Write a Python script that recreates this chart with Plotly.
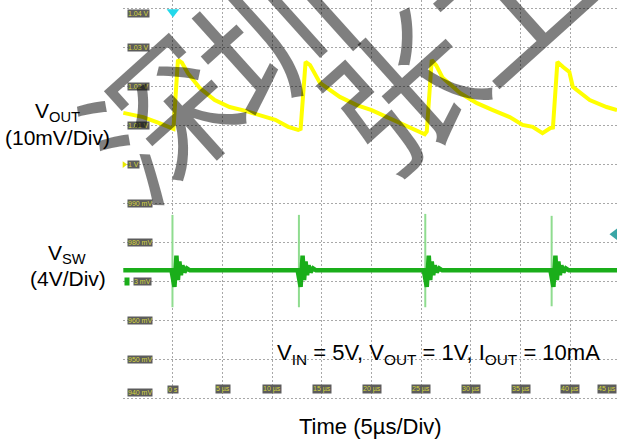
import plotly.graph_objects as go

# channel 1: V_OUT (volts) against time (µs)
vout_t = [-5.0, -3.0, -1.5, -0.3, 0.05, 0.5, 0.9, 1.5, 2.7, 4.2, 5.7, 7.3, 8.75, 10.3,
          11.6, 12.6, 12.85, 13.35, 13.8, 14.8, 16.8, 18.5, 20.0, 21.8, 23.8, 25.35,
          25.55, 26.05, 26.5, 27.15, 28.9, 30.6, 32.2, 33.9, 35.2, 36.2, 37.2, 38.0,
          38.25, 38.7, 39.3, 39.9, 40.25, 41.95, 43.65, 44.7]
vout_v = [1.0133, 1.0122, 1.0108, 1.0094, 1.0092, 1.0269, 1.0262, 1.0235, 1.0197, 1.0166,
          1.0148, 1.0138, 1.0128, 1.0115, 1.0097, 1.0089, 1.0092, 1.0264, 1.0256, 1.0210,
          1.0174, 1.0153, 1.0140, 1.0120, 1.0097, 1.0078, 1.0085, 1.0269, 1.0255, 1.0223,
          1.0184, 1.0158, 1.0140, 1.0122, 1.0102, 1.0097, 1.0081, 1.0094, 1.0095, 1.0264,
          1.0250, 1.0238, 1.0200, 1.0166, 1.0148, 1.0140]

# channel 2: V_SW (volts), baseline + ringing after each switching event
vsw_t = [-5.0, -0.15, 0.15, 0.35, 0.5, 0.65, 0.8, 0.95, 1.15, 1.4, 1.7,
         12.55, 12.85, 13.05, 13.2, 13.35, 13.5, 13.65, 13.85, 14.1, 14.4,
         25.25, 25.55, 25.75, 25.9, 26.05, 26.2, 26.35, 26.55, 26.8, 27.1,
         38.0, 38.3, 38.5, 38.65, 38.8, 38.95, 39.1, 39.3, 39.55, 39.85, 44.7]
vsw_v = [1.1, 1.1, -0.6, 2.6, 0.1, 2.0, 0.6, 1.6, 0.9, 1.3, 1.1,
         1.1, -0.6, 2.6, 0.1, 2.0, 0.6, 1.6, 0.9, 1.3, 1.1,
         1.1, -0.6, 2.6, 0.1, 2.0, 0.6, 1.6, 0.9, 1.3, 1.1,
         1.1, -0.6, 2.6, 0.1, 2.0, 0.6, 1.6, 0.9, 1.3, 1.1, 1.1]

# fast switching edges (drawn pale)
spike_t = [-0.05, 12.68, 25.4, 38.12]
spike_hi = [6.8, 6.8, 6.9, 6.7]
spike_lo = [-2.7, -2.7, -2.7, -2.6]

ch1_levels = [1.04, 1.03, 1.02, 1.01, 1.00, 0.99, 0.98, 0.96, 0.95, 0.94]
ch1_labels = ["1.04 V", "1.03 V", "1.02 V", "1.01 V", "1 V", "990 mV", "980 mV",
              "960 mV", "950 mV", "940 mV"]
time_ticks = [0, 5, 10, 15, 20, 25, 30, 35, 40, 45]
time_labels = ["0 s", "5 µs", "10 µs", "15 µs", "20 µs", "25 µs", "30 µs", "35 µs",
               "40 µs", "45 µs"]

trig_level = 4.8  # V, channel 2

X0, X1 = -5.03, 44.7
Y0, Y1 = 0.93949, 1.04231
Y2_0, Y2_1 = -12.24, 28.9

font = "Arial, Liberation Sans, sans-serif"
lab_bg = "#5c5c5c"
lab_fg = "#d6d63c"

fig = go.Figure()

spx, spy = [], []
for t, hi, lo in zip(spike_t, spike_hi, spike_lo):
    spx += [t, t, None]
    spy += [hi, lo, None]
fig.add_trace(go.Scatter(x=spx, y=spy, mode='lines', yaxis='y2',
                         line=dict(color='#8fdc8f', width=2), hoverinfo='skip'))
fig.add_trace(go.Scatter(x=vsw_t, y=vsw_v, mode='lines', yaxis='y2',
                         line=dict(color='#1aae1a', width=4.5), hoverinfo='skip'))
fig.add_trace(go.Scatter(x=vout_t, y=vout_v, mode='lines',
                         line=dict(color='#ffff00', width=4), hoverinfo='skip'))

# scope markers: trigger position, trigger level, channel offsets
fig.add_trace(go.Scatter(x=[0], y=[Y1 - 0.0031], mode='markers', cliponaxis=False,
                         marker=dict(symbol='triangle-down', size=11, color='#22d8ea')))
fig.add_trace(go.Scatter(x=[44.45], y=[trig_level], yaxis='y2', mode='markers', cliponaxis=False,
                         marker=dict(symbol='triangle-left', size=10, color='#3aa6a6')))
fig.add_trace(go.Scatter(x=[X0 + 0.12], y=[1.0], mode='markers', cliponaxis=False,
                         marker=dict(symbol='triangle-right', size=6, color='#e8e800')))

ann = []
for lv, lb in zip(ch1_levels, ch1_labels):
    ys = 0
    if lv >= 1.04:
        ys = -5
    if lv <= 0.94:
        ys = 6
    ann.append(dict(x=X0, y=lv, xref='x', yref='y', text=lb, showarrow=False,
                    xanchor='left', yanchor='middle', xshift=4, yshift=ys,
                    font=dict(size=7, color=lab_fg, family=font), bgcolor=lab_bg, borderpad=0))
# channel 2 ground marker on the 970 mV line
ann.append(dict(x=X0, y=0.97, xref='x', yref='y', text="2", showarrow=False,
                xanchor='left', yanchor='middle', xshift=1,
                font=dict(size=7, color='#1aae1a', family=font), bgcolor='#1aae1a', borderpad=0))
ann.append(dict(x=X0, y=0.97, xref='x', yref='y', text="3 mV", showarrow=False,
                xanchor='left', yanchor='middle', xshift=10,
                font=dict(size=7, color=lab_fg, family=font), bgcolor=lab_bg, borderpad=0))
for tt, lb in zip(time_ticks, time_labels):
    xa = 'center'
    if tt > X1:
        tt, xa = X1 - 0.05, 'right'
    ann.append(dict(x=tt, y=0.0275, xref='x', yref='paper', text=lb,
                    showarrow=False, xanchor=xa, yanchor='middle',
                    font=dict(size=7, color=lab_fg, family=font), bgcolor=lab_bg, borderpad=0))

# side / bottom captions
for txt, px, py, fs in [("V<sub>OUT</sub>", -0.1336, 0.72, 21), ("(10mV/Div)", -0.1316, 0.6575, 21),
                        ("V<sub>SW</sub>", -0.1134, 0.365, 21), ("(4V/Div)", -0.111, 0.305, 21),
                        ("Time (5µs/Div)", 0.5, -0.0675, 22)]:
    ann.append(dict(x=px, y=py, xref='paper', yref='paper', text=txt, showarrow=False,
                    xanchor='center', yanchor='middle', font=dict(size=fs, color='black', family=font)))
ann.append(dict(x=0.6377, y=0.115, xref='paper', yref='paper',
                text="V<sub>IN</sub> = 5V, V<sub>OUT</sub> = 1V, I<sub>OUT</sub> = 10mA",
                showarrow=False, xanchor='center', yanchor='middle',
                font=dict(size=22, color='black', family=font)))

# watermark
for ch, px, py in [("深", 0.069, 0.72), ("圳", 0.29, 0.925), ("张", 0.555, 0.785), ("工", 0.774, 1.01)]:
    ann.append(dict(x=px, y=py, xref='paper', yref='paper', text=ch, showarrow=False,
                    textangle=-42, xanchor='center', yanchor='middle',
                    font=dict(size=148, color='rgba(0,0,0,0.5)', family='Noto Sans CJK SC')))

grid = dict(showgrid=True, gridcolor='#a8a8a8', gridwidth=1, griddash='2px,2px',
            zeroline=False, showline=False, showticklabels=False, ticks='')
fig.update_layout(
    width=617, height=446,
    margin=dict(l=123, r=0, t=0, b=46),
    paper_bgcolor='white', plot_bgcolor='white',
    showlegend=False,
    xaxis=dict(range=[X0, X1], tick0=0, dtick=5, **grid),
    yaxis=dict(range=[Y0, Y1], tick0=0.94, dtick=0.01, **grid),
    yaxis2=dict(range=[Y2_0, Y2_1], overlaying='y', visible=False),
    annotations=ann,
)

fig.write_html("out.html", config={'displayModeBar': False},
               post_script="document.body.style.margin='0px';")
